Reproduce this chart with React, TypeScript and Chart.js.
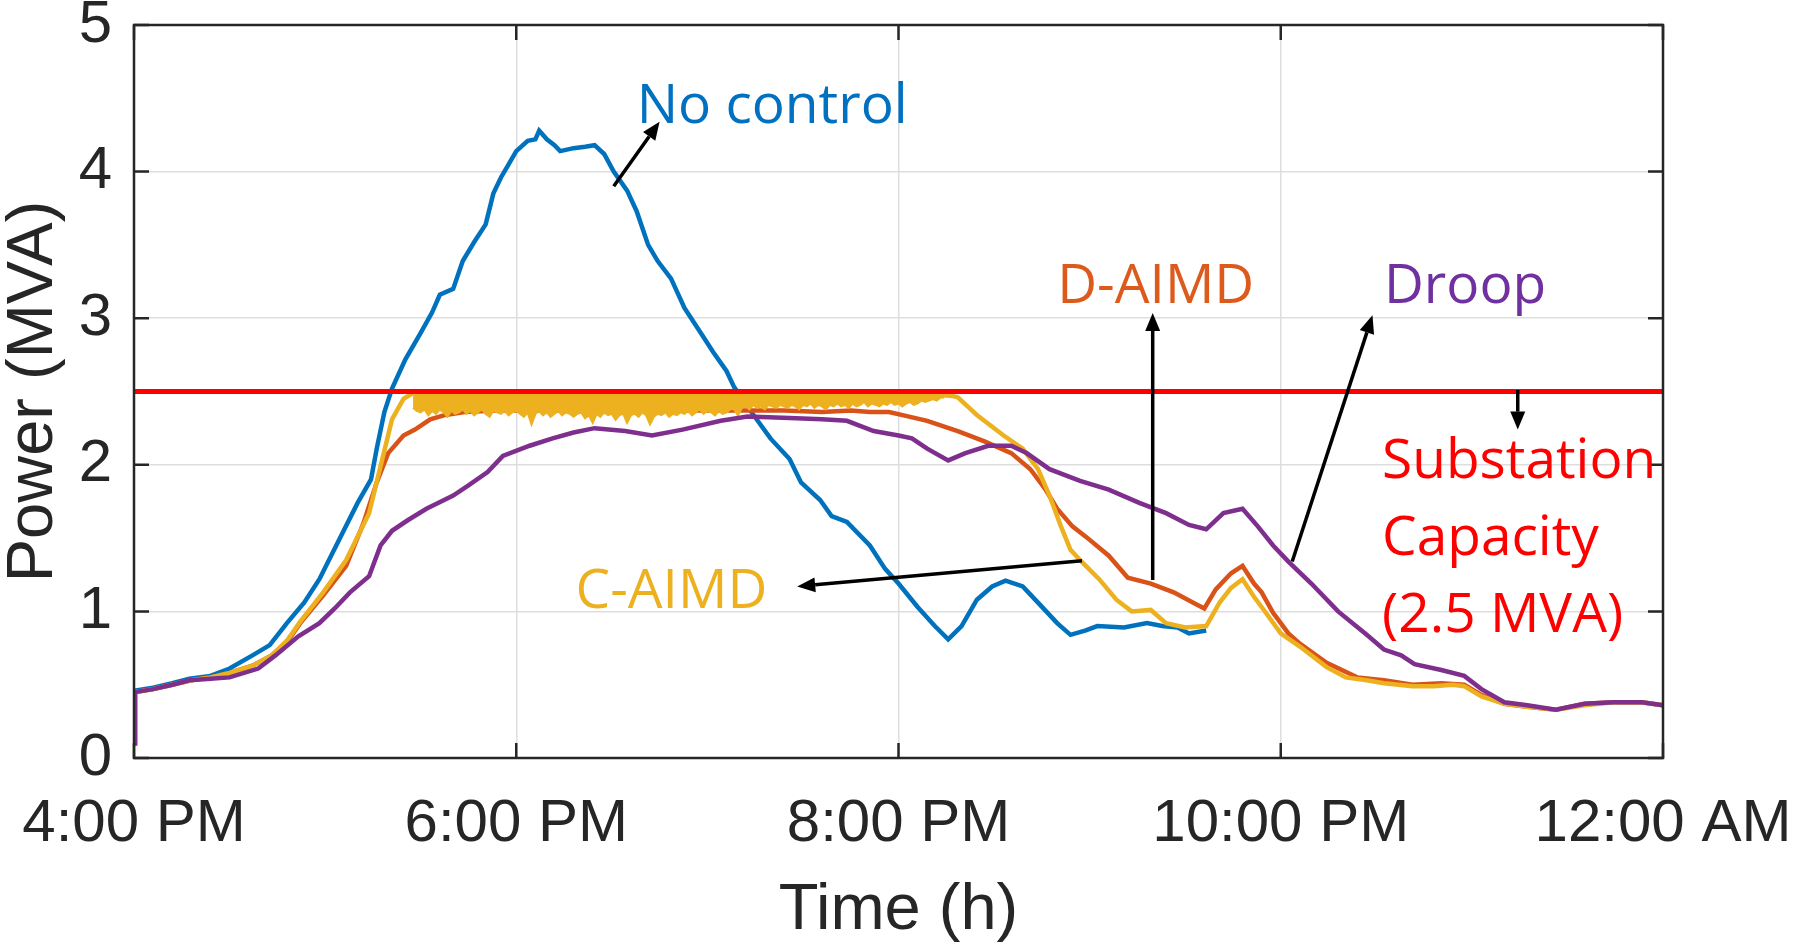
import { useEffect, useRef } from "react";
import { Chart, registerables } from "chart.js";

Chart.register(...registerables);

// time is in hours (16 = 4:00 PM, 24 = 12:00 AM), power in MVA
const noControl: [number, number][] = [
  [16.0, 0.1], [16.005, 0.46], [16.1, 0.48], [16.2, 0.51], [16.29, 0.54], [16.4, 0.56],
  [16.5, 0.61], [16.62, 0.7], [16.71, 0.77], [16.8, 0.92], [16.89, 1.06], [16.97, 1.22],
  [17.07, 1.48], [17.17, 1.74], [17.24, 1.9], [17.27, 2.11], [17.31, 2.36], [17.35, 2.52],
  [17.42, 2.72], [17.5, 2.9], [17.56, 3.04], [17.6, 3.16], [17.67, 3.2], [17.72, 3.39],
  [17.78, 3.52], [17.84, 3.64], [17.88, 3.85], [17.92, 3.96], [17.96, 4.05], [18.0, 4.14],
  [18.06, 4.21], [18.1, 4.22], [18.12, 4.28], [18.16, 4.22], [18.2, 4.18], [18.23, 4.14],
  [18.3, 4.16], [18.36, 4.17], [18.41, 4.18], [18.46, 4.12], [18.51, 4.0], [18.58, 3.87],
  [18.63, 3.73], [18.69, 3.5], [18.74, 3.39], [18.81, 3.27], [18.88, 3.07], [18.97, 2.89],
  [19.03, 2.77], [19.1, 2.64], [19.14, 2.53], [19.23, 2.36], [19.33, 2.18], [19.43, 2.04],
  [19.49, 1.88], [19.59, 1.76], [19.65, 1.65], [19.73, 1.61], [19.85, 1.45], [19.93, 1.29],
  [20.0, 1.19], [20.1, 1.03], [20.19, 0.9], [20.26, 0.81], [20.33, 0.9], [20.41, 1.08],
  [20.49, 1.17], [20.56, 1.21], [20.65, 1.17], [20.73, 1.06], [20.83, 0.92], [20.9, 0.84],
  [20.98, 0.87], [21.04, 0.9], [21.18, 0.89], [21.3, 0.92], [21.38, 0.9], [21.46, 0.89],
  [21.52, 0.85], [21.61, 0.87],
];

const dAimd: [number, number][] = [
  [16.0, 0.1], [16.005, 0.45], [16.1, 0.47], [16.2, 0.5], [16.3, 0.53], [16.4, 0.55],
  [16.5, 0.58], [16.62, 0.63], [16.72, 0.7], [16.8, 0.79], [16.87, 0.92], [16.99, 1.11],
  [17.11, 1.31], [17.2, 1.6], [17.27, 1.88], [17.33, 2.08], [17.41, 2.2], [17.47, 2.24],
  [17.55, 2.31], [17.63, 2.34], [17.73, 2.36], [17.9, 2.37], [18.2, 2.37], [18.5, 2.36],
  [18.8, 2.37], [19.1, 2.37], [19.4, 2.37], [19.6, 2.36], [19.75, 2.37], [19.85, 2.36],
  [19.95, 2.36], [20.05, 2.33], [20.15, 2.3], [20.31, 2.23], [20.45, 2.16], [20.59, 2.08],
  [20.69, 1.97], [20.77, 1.83], [20.83, 1.7], [20.91, 1.58], [20.98, 1.51], [21.1, 1.38],
  [21.2, 1.23], [21.32, 1.19], [21.44, 1.13], [21.54, 1.06], [21.6, 1.02], [21.66, 1.15],
  [21.74, 1.26], [21.8, 1.31], [21.86, 1.19], [21.9, 1.13], [21.96, 0.99], [22.04, 0.85],
  [22.1, 0.78], [22.24, 0.65], [22.4, 0.55], [22.54, 0.53], [22.69, 0.5], [22.84, 0.51],
  [22.96, 0.5], [23.05, 0.43], [23.17, 0.37], [23.29, 0.35], [23.44, 0.33], [23.59, 0.37],
  [23.74, 0.38], [23.89, 0.38], [24.0, 0.36],
];

const cAimd: [number, number][] = [
  [16.0, 0.1], [16.005, 0.45], [16.1, 0.47], [16.2, 0.5], [16.3, 0.53], [16.4, 0.55],
  [16.5, 0.58], [16.62, 0.63], [16.72, 0.7], [16.8, 0.8], [16.87, 0.93], [16.99, 1.13],
  [17.11, 1.35], [17.23, 1.67], [17.29, 1.99], [17.35, 2.31], [17.41, 2.45], [17.46, 2.49],
  [20.0, 2.49], [20.2, 2.48], [20.28, 2.47], [20.31, 2.46], [20.36, 2.4], [20.41, 2.34],
  [20.48, 2.27], [20.55, 2.2], [20.65, 2.11], [20.73, 1.97], [20.79, 1.79], [20.85, 1.58],
  [20.9, 1.42], [20.95, 1.35], [21.05, 1.22], [21.14, 1.08], [21.22, 1.0], [21.32, 1.01],
  [21.4, 0.92], [21.5, 0.89], [21.61, 0.9], [21.68, 1.06], [21.74, 1.16], [21.8, 1.22],
  [21.86, 1.1], [21.9, 1.03], [22.0, 0.85], [22.1, 0.76], [22.24, 0.62], [22.34, 0.55],
  [22.45, 0.53], [22.54, 0.51], [22.69, 0.49], [22.8, 0.49], [22.9, 0.5], [22.96, 0.49],
  [23.05, 0.42], [23.17, 0.37], [23.29, 0.35], [23.44, 0.33], [23.59, 0.36], [23.74, 0.38],
  [23.89, 0.38], [24.0, 0.36],
];

// lower edge of the C-AIMD oscillation under the limit, one sample every 0.02 h from 17.46 h
const cAimdBandStart = 17.46;
const cAimdBandStep = 0.02;
const cAimdBandLow = [
  2.39, 2.37, 2.36, 2.38, 2.34, 2.37, 2.35, 2.38, 2.36, 2.33, 2.37, 2.35, 2.36, 2.38,
  2.35, 2.37, 2.34, 2.36, 2.38, 2.35, 2.33, 2.37, 2.36, 2.35, 2.37, 2.34, 2.36, 2.37,
  2.35, 2.33, 2.36, 2.28, 2.35, 2.37, 2.34, 2.36, 2.33, 2.35, 2.37, 2.34, 2.36, 2.35,
  2.33, 2.35, 2.36, 2.32, 2.34, 2.29, 2.35, 2.33, 2.36, 2.34, 2.35, 2.31, 2.34, 2.35,
  2.29, 2.34, 2.35, 2.33, 2.36, 2.34, 2.28, 2.33, 2.35, 2.34, 2.36, 2.33, 2.35, 2.34,
  2.36, 2.35, 2.37, 2.34, 2.36, 2.38, 2.35, 2.37, 2.36, 2.34, 2.37, 2.35, 2.36, 2.38,
  2.38, 2.34, 2.39, 2.40, 2.38, 2.41, 2.39, 2.40, 2.38, 2.41, 2.40, 2.39, 2.41, 2.40,
  2.39, 2.41, 2.40, 2.38, 2.41, 2.40, 2.42, 2.39, 2.41, 2.40, 2.38, 2.41, 2.40, 2.42,
  2.40, 2.41, 2.39, 2.42, 2.40, 2.41, 2.43, 2.40, 2.42, 2.41, 2.40, 2.42, 2.41, 2.43,
  2.41, 2.42, 2.40, 2.42, 2.43, 2.41, 2.42, 2.44, 2.43, 2.44, 2.45, 2.44, 2.46, 2.46,
];

const droop: [number, number][] = [
  [16.0, 0.1], [16.005, 0.45], [16.1, 0.47], [16.2, 0.5], [16.29, 0.53], [16.4, 0.54],
  [16.5, 0.55], [16.65, 0.61], [16.74, 0.7], [16.86, 0.83], [16.97, 0.92], [17.05, 1.02],
  [17.13, 1.13], [17.23, 1.24], [17.29, 1.45], [17.35, 1.55], [17.43, 1.62], [17.53, 1.7],
  [17.67, 1.79], [17.75, 1.86], [17.85, 1.95], [17.93, 2.06], [18.07, 2.13], [18.19, 2.18],
  [18.3, 2.22], [18.41, 2.25], [18.57, 2.23], [18.71, 2.2], [18.87, 2.24], [19.07, 2.3],
  [19.21, 2.33], [19.43, 2.32], [19.6, 2.31], [19.73, 2.3], [19.87, 2.23], [20.0, 2.2],
  [20.07, 2.18], [20.15, 2.11], [20.26, 2.03], [20.35, 2.08], [20.47, 2.13], [20.59, 2.13],
  [20.67, 2.08], [20.79, 1.97], [20.95, 1.89], [21.1, 1.83], [21.26, 1.74], [21.4, 1.67],
  [21.52, 1.59], [21.61, 1.56], [21.7, 1.67], [21.8, 1.7], [21.88, 1.58], [21.96, 1.45],
  [22.04, 1.34], [22.16, 1.19], [22.3, 1.0], [22.45, 0.84], [22.54, 0.74], [22.63, 0.7],
  [22.7, 0.64], [22.84, 0.6], [22.96, 0.56], [23.05, 0.47], [23.17, 0.38], [23.29, 0.36],
  [23.44, 0.33], [23.59, 0.37], [23.74, 0.38], [23.89, 0.38], [24.0, 0.36],
];

const capacity: [number, number][] = [[16, 2.5], [24, 2.5]];
const capacityLevel = 2.5;

const xTicks = [16, 18, 20, 22, 24];
const yTicks = [0, 1, 2, 3, 4, 5];

// text and arrows placed in data coordinates
const notes = [
  { text: "No control", x: 18.63, y: 4.33, color: "#0070C0" },
  { text: "D-AIMD", x: 20.83, y: 3.106, color: "#DC5A1C" },
  { text: "Droop", x: 22.54, y: 3.106, color: "#7030A0" },
  { text: "Substation", x: 22.53, y: 1.91, color: "#FF0000" },
  { text: "Capacity", x: 22.53, y: 1.385, color: "#FF0000" },
  { text: "(2.5 MVA)", x: 22.53, y: 0.86, color: "#FF0000" },
  { text: "C-AIMD", x: 18.31, y: 1.02, color: "#EDB120" },
];

const arrows = [
  { from: [18.51, 3.9], to: [18.75, 4.34] },
  { from: [21.33, 1.214], to: [21.33, 3.035] },
  { from: [22.06, 1.34], to: [22.48, 3.02] },
  { from: [23.24, 2.51], to: [23.24, 2.24] },
  { from: [20.96, 1.346], to: [19.47, 1.17] },
];

const toPoints = (rows: [number, number][]) => rows.map(([x, y]) => ({ x, y }));

const cAimdBand = cAimdBandLow.map((y, i) => ({ x: cAimdBandStart + i * cAimdBandStep, y }));

const hourLabel = (h: number) => {
  const hh = h % 12 === 0 ? 12 : h % 12;
  return `${hh}:00 ${h % 24 >= 12 ? "PM" : "AM"}`;
};

const axisColor = "#262626";

const boxPlugin = {
  id: "matlabBox",
  afterDatasetsDraw(chart: any) {
    const { ctx, chartArea: a, scales } = chart;
    ctx.save();
    ctx.strokeStyle = axisColor;
    ctx.lineWidth = 2.5;
    ctx.strokeRect(a.left, a.top, a.right - a.left, a.bottom - a.top);
    const len = 15;
    ctx.beginPath();
    xTicks.forEach((t) => {
      const px = scales.x.getPixelForValue(t);
      ctx.moveTo(px, a.bottom);
      ctx.lineTo(px, a.bottom - len);
      ctx.moveTo(px, a.top);
      ctx.lineTo(px, a.top + len);
    });
    yTicks.forEach((t) => {
      const py = scales.y.getPixelForValue(t);
      ctx.moveTo(a.left, py);
      ctx.lineTo(a.left + len, py);
      ctx.moveTo(a.right, py);
      ctx.lineTo(a.right - len, py);
    });
    ctx.stroke();
    ctx.restore();
  },
};

const notesPlugin = {
  id: "notes",
  afterDraw(chart: any) {
    const { ctx, scales } = chart;
    const px = (v: number) => scales.x.getPixelForValue(v);
    const py = (v: number) => scales.y.getPixelForValue(v);
    ctx.save();
    ctx.font = '55px "Open Sans", sans-serif';
    ctx.textBaseline = "alphabetic";
    ctx.textAlign = "left";
    notes.forEach((n) => {
      ctx.fillStyle = n.color;
      ctx.fillText(n.text, px(n.x), py(n.y));
    });
    ctx.strokeStyle = "#000";
    ctx.fillStyle = "#000";
    ctx.lineWidth = 3.5;
    arrows.forEach(({ from, to }) => {
      const x0 = px(from[0]), y0 = py(from[1]);
      const x1 = px(to[0]), y1 = py(to[1]);
      const ang = Math.atan2(y1 - y0, x1 - x0);
      const head = 18, half = 7.5;
      const bx = x1 - head * Math.cos(ang), by = y1 - head * Math.sin(ang);
      ctx.beginPath();
      ctx.moveTo(x0, y0);
      ctx.lineTo(bx, by);
      ctx.stroke();
      ctx.beginPath();
      ctx.moveTo(x1, y1);
      ctx.lineTo(bx + half * Math.sin(ang), by - half * Math.cos(ang));
      ctx.lineTo(bx - half * Math.sin(ang), by + half * Math.cos(ang));
      ctx.closePath();
      ctx.fill();
    });
    ctx.restore();
  },
};

const line = (data: { x: number; y: number }[], color: string, width = 4.5) => ({
  data,
  borderColor: color,
  backgroundColor: color,
  borderWidth: width,
  pointRadius: 0,
  tension: 0,
  fill: false as any,
});

export default function App() {
  const canvasRef = useRef<HTMLCanvasElement>(null);

  useEffect(() => {
    if (!canvasRef.current) return;
    const family = '"Liberation Sans", Arial, sans-serif';

    const band = { ...line(cAimdBand, "#EDB120", 2.5), fill: { value: capacityLevel - 0.01 } };

    const chart = new Chart(canvasRef.current, {
      type: "line",
      data: {
        // first dataset is drawn on top
        datasets: [
          line(toPoints(capacity), "#FF0000", 5),
          line(toPoints(droop), "#7E2F8E"),
          band,
          line(toPoints(cAimd), "#EDB120"),
          line(toPoints(dAimd), "#D95319"),
          line(toPoints(noControl), "#0072BD"),
        ],
      },
      options: {
        animation: false,
        responsive: false,
        devicePixelRatio: 1,
        layout: { padding: { top: 25, right: 133, left: 0, bottom: 0 } },
        plugins: {
          legend: { display: false },
          tooltip: { enabled: false },
        },
        scales: {
          x: {
            type: "linear",
            min: 16,
            max: 24,
            afterBuildTicks: (s: any) => {
              s.ticks = xTicks.map((value) => ({ value }));
            },
            afterFit: (s: any) => {
              s.height = 190;
            },
            ticks: {
              callback: (v: any) => hourLabel(Number(v)),
              font: { family, size: 60, lineHeight: 2.22 },
              color: axisColor,
              padding: 0,
              maxRotation: 0,
              autoSkip: false,
            },
            grid: { color: "#dedede", lineWidth: 1.5, drawTicks: false },
            border: { display: false },
            title: {
              display: true,
              text: "Time (h)",
              font: { family, size: 65, lineHeight: 1 },
              color: axisColor,
              padding: { top: 0, bottom: 4 },
            },
          },
          y: {
            type: "linear",
            min: 0,
            max: 5,
            afterBuildTicks: (s: any) => {
              s.ticks = yTicks.map((value) => ({ value }));
            },
            afterFit: (s: any) => {
              s.width = 134;
            },
            ticks: {
              font: { family, size: 60, lineHeight: 0.05 },
              color: axisColor,
              padding: 22,
            },
            grid: { color: "#dedede", lineWidth: 1.5, drawTicks: false },
            border: { display: false },
            title: {
              display: true,
              text: "Power (MVA)",
              font: { family, size: 65, lineHeight: 1 },
              color: axisColor,
              padding: { top: 2, bottom: 0 },
            },
          },
        },
      },
      plugins: [boxPlugin, notesPlugin],
    });

    return () => chart.destroy();
  }, []);

  return (
    <div style={{ position: "fixed", left: 0, top: 0, width: 1796, height: 948, background: "#fff" }}>
      <canvas ref={canvasRef} width={1796} height={948} style={{ width: 1796, height: 948 }} />
    </div>
  );
}
